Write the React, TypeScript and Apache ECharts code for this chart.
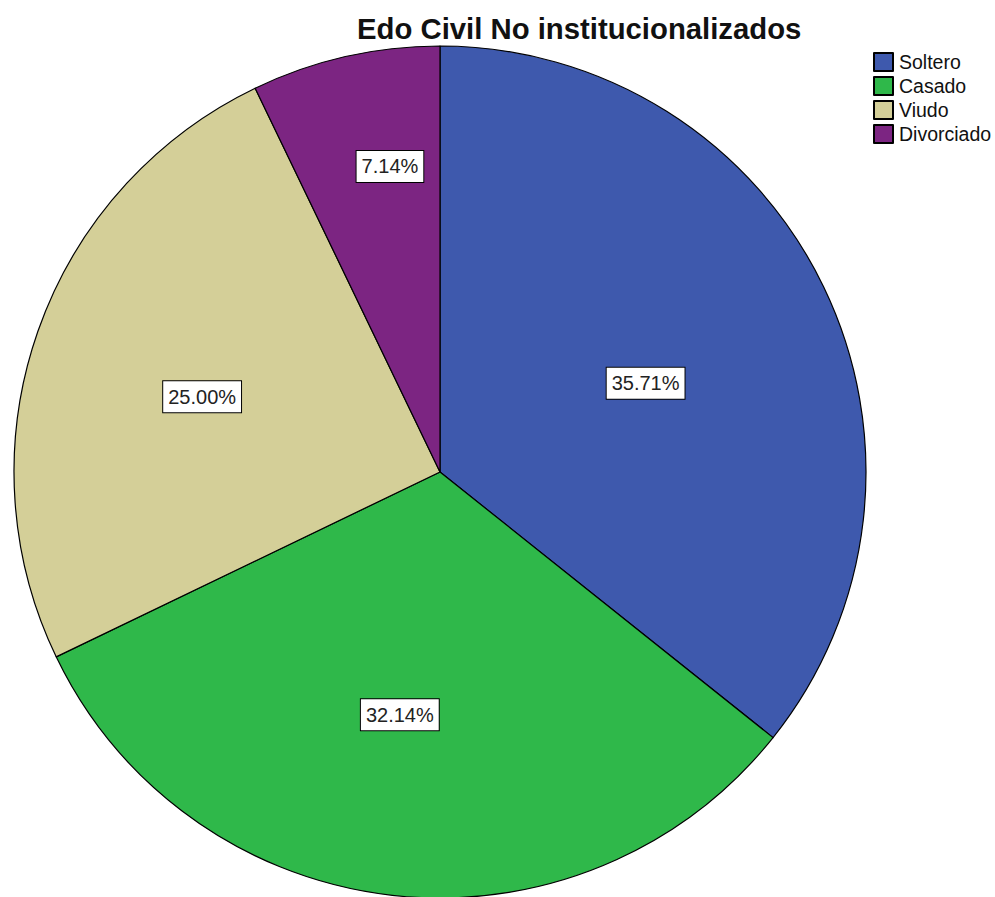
import React, { useEffect, useRef } from "react";
import * as echarts from "echarts";

const titleText = "Edo Civil No institucionalizados";
const categories = ["Soltero", "Casado", "Viudo", "Divorciado"];
const counts = [10, 9, 7, 2];
const colors = ["#3e59ad", "#2fb84a", "#d4cf98", "#7c2582"];
// label nudges (px) relative to default inside position
const labelNudges: [number, number][] = [[11, 5], [-16, 28], [-34, -4], [-2, -95]];

export default function App() {
  const ref = useRef<HTMLDivElement>(null);
  useEffect(() => {
    if (!ref.current) return;
    const chart = echarts.init(ref.current, undefined, { renderer: "svg" });
    const total = counts.reduce((a, b) => a + b, 0);
    chart.setOption({
      animation: false,
      backgroundColor: "#ffffff",
      title: {
        text: titleText,
        left: 352,
        top: 9,
        padding: 5,
        textStyle: { fontFamily: "Liberation Sans, Arial, sans-serif", fontSize: 29.3, fontWeight: "bold", color: "#111" },
      },
      legend: {
        orient: "vertical",
        left: 873,
        top: 52,
        padding: 0,
        itemWidth: 19,
        itemHeight: 18,
        itemGap: 4,
        icon: "rect",
        selectedMode: false,
        textStyle: { fontFamily: "Liberation Sans, Arial, sans-serif", fontSize: 19.5, color: "#111", padding: [0, 0, 0, 1] },
        data: categories,
      },
      series: [
        {
          type: "pie",
          center: [440, 472],
          radius: 426,
          startAngle: 90,
          clockwise: true,
          silent: true,
          itemStyle: { borderColor: "#000", borderWidth: 1.2 },
          label: {
            show: true,
            position: "inside",
            formatter: (p: any) => ((p.value / total) * 100).toFixed(2) + "%",
            fontFamily: "Liberation Sans, Arial, sans-serif",
            fontSize: 20,
            color: "#222",
            backgroundColor: "#fff",
            borderColor: "#000",
            borderWidth: 1,
            padding: [6, 5, 5, 5],
          },
          labelLayout: (p: any) => {
            const n = labelNudges[p.dataIndex] || [0, 0];
            return { dx: n[0], dy: n[1] };
          },
          labelLine: { show: false },
          emphasis: { disabled: true },
          data: categories.map((c, i) => ({ name: c, value: counts[i], itemStyle: { color: colors[i] } })),
        },
      ],
    });
    return () => chart.dispose();
  }, []);
  return <div ref={ref} style={{ position: "absolute", left: 0, top: 0, width: 995, height: 897 }} />;
}
